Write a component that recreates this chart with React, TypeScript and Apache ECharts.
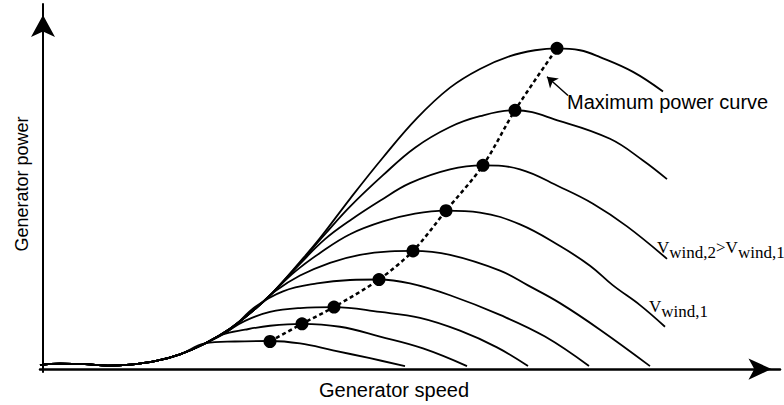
import React, { useEffect, useRef } from 'react';
import * as echarts from 'echarts';

// Shared low-speed part of every power curve (generator speed, generator power)
const lowSpeedSegment: number[][] = [
  [-3, 4], [17, 5.5], [42, 5], [65, 3.5], [87, 4.5], [112, 8], [137, 15], [162, 26],
];

// Power curves for increasing wind speed (lowest -> highest)
const curve1: number[][] = [[192, 28], [227, 28.5], [257, 26], [290, 19], [327, 11], [362, 3]];
const curve2: number[][] = [[179, 35], [202, 40], [227, 44], [259, 46], [297, 43], [337, 33], [380, 21], [424, 3]];
const curve3: number[][] = [[182, 37], [202, 49], [227, 58], [257, 62], [291, 63], [337, 58], [377, 52], [417, 39], [454, 22], [485, 3]];
const curve4: number[][] = [[187, 40], [212, 63], [240, 79], [274, 87], [307, 90.5], [336, 91], [367, 87], [407, 75], [457, 55], [502, 33], [546, 3]];
const curve5: number[][] = [[187, 41], [212, 61], [232, 79], [257, 95], [287, 108], [317, 116], [347, 119.5], [370, 120], [407, 116], [457, 100], [485, 85], [517, 67], [557, 40], [607, 3]];
const curve6: number[][] = [[187, 41], [212, 61], [229, 77], [252, 99], [277, 118], [307, 137], [340, 150], [372, 158], [403, 161], [437, 159], [477, 147], [517, 125], [547, 105], [570, 85], [597, 65], [622, 43]];
const curve7: number[][] = [[187, 41], [212, 61], [229, 77], [257, 107], [282, 132], [307, 151], [337, 171], [367, 189], [407, 203], [440, 207], [477, 203], [517, 185], [550, 168], [584, 145], [624, 112]];
const curve8: number[][] = [[187, 41], [212, 61], [229, 77], [257, 108], [282, 137], [307, 165], [340, 197], [372, 225], [407, 246], [437, 257], [472, 263], [517, 252], [567, 234], [600, 212], [624, 193]];
const curve9: number[][] = [[187, 41], [212, 61], [229, 77], [257, 109], [277, 133], [307, 173], [340, 215], [374, 255], [407, 286], [437, 305], [467, 318], [492, 324], [514, 326], [537, 324], [557, 317], [590, 302], [620, 282]];

const powerCurves: number[][][] = [curve1, curve2, curve3, curve4, curve5, curve6, curve7, curve8, curve9];

// Maximum power points (peaks of each curve)
const peakPoints: number[][] = [
  [227, 28], [259, 46], [291, 63], [336, 91], [370, 120], [403, 161], [440, 207], [472, 263], [514, 326],
];

// Annotation arrow (tail -> tip) in data coordinates
const annotationArrow: number[][] = [[525, 278], [504, 297]];

const xTitle = 'Generator speed';
const yTitle = 'Generator power';
const maxPowerLabel = 'Maximum power curve';

export default function App() {
  const ref = useRef<HTMLDivElement>(null);

  useEffect(() => {
    if (!ref.current) return;
    const chart = echarts.init(ref.current, null, { renderer: 'svg' });

    const curveSeries = powerCurves.map((c, i) => ({
      type: 'line',
      name: 'curve' + (i + 1),
      data: [...lowSpeedSegment, ...c],
      smooth: 0.4,
      showSymbol: false,
      symbol: 'none',
      silent: true,
      lineStyle: { color: '#000', width: 1.8 },
      emphasis: { disabled: true },
      z: 2,
    }));

    const vRich = {
      v: { fontSize: 17, fontFamily: 'Liberation Serif', fill: '#000' },
      s: { fontSize: 17, fontFamily: 'Liberation Serif', fill: '#000', padding: [10, 0, 0, 0] },
    };

    chart.setOption({
      animation: false,
      backgroundColor: '#fff',
      grid: { left: 40, right: 4, top: 4, bottom: 27, containLabel: false },
      xAxis: {
        type: 'value',
        min: -3,
        max: 737,
        name: xTitle,
        nameLocation: 'middle',
        nameGap: 8,
        nameTextStyle: { fontSize: 20, fontFamily: 'Liberation Sans', color: '#000', padding: [0, 32, 0, 0] },
        axisLine: {
          show: true,
          onZero: true,
          symbol: ['none', 'arrow'],
          symbolSize: [16, 23],
          symbolOffset: [0, -8.5],
          lineStyle: { color: '#000', width: 2.5 },
        },
        axisTick: { show: false },
        axisLabel: { show: false },
        splitLine: { show: false },
      },
      yAxis: {
        type: 'value',
        min: -3,
        max: 371,
        name: yTitle,
        nameLocation: 'middle',
        nameGap: 9,
        nameTextStyle: { fontSize: 18, fontFamily: 'Liberation Sans', color: '#000', padding: [0, 0, 0, 8] },
        axisLine: {
          show: true,
          onZero: true,
          symbol: ['none', 'arrow'],
          symbolSize: [18, 22],
          symbolOffset: [0, -11],
          lineStyle: { color: '#000', width: 2 },
        },
        axisTick: { show: false },
        axisLabel: { show: false },
        splitLine: { show: false },
      },
      series: [
        ...curveSeries,
        {
          type: 'line',
          name: 'maxPower',
          data: peakPoints,
          smooth: 0.3,
          showSymbol: false,
          symbol: 'none',
          silent: true,
          lineStyle: { color: '#000', width: 2.5, type: [4, 3] },
          emphasis: { disabled: true },
          z: 3,
          markLine: {
            silent: true,
            symbol: ['none', 'arrow'],
            symbolSize: 10,
            label: { show: false },
            lineStyle: { color: '#000', width: 1.5, type: 'solid' },
            emphasis: { disabled: true },
            data: [[{ coord: annotationArrow[0] }, { coord: annotationArrow[1] }]],
          },
        },
        {
          type: 'scatter',
          name: 'peaks',
          data: peakPoints,
          symbol: 'circle',
          symbolSize: 13,
          silent: true,
          itemStyle: { color: '#000', opacity: 1 },
          emphasis: { disabled: true },
          z: 4,
        },
      ],
      graphic: [
        {
          type: 'text',
          left: 567,
          top: 92,
          silent: true,
          style: {
            text: maxPowerLabel,
            fontSize: 20,
            fontFamily: 'Liberation Sans',
            fill: '#000',
          },
        },
        {
          type: 'text',
          left: 657,
          top: 239,
          silent: true,
          style: {
            text: '{v|V}{s|wind,2}{v|>}{v|V}{s|wind,1}',
            fill: '#000',
            rich: vRich,
          },
        },
        {
          type: 'text',
          left: 649,
          top: 298,
          silent: true,
          style: {
            text: '{v|V}{s|wind,1}',
            fill: '#000',
            rich: vRich,
          },
        },
      ],
    });

    return () => chart.dispose();
  }, []);

  return (
    <div
      ref={ref}
      style={{ position: 'absolute', left: 0, top: 0, width: 784, height: 405 }}
    />
  );
}
